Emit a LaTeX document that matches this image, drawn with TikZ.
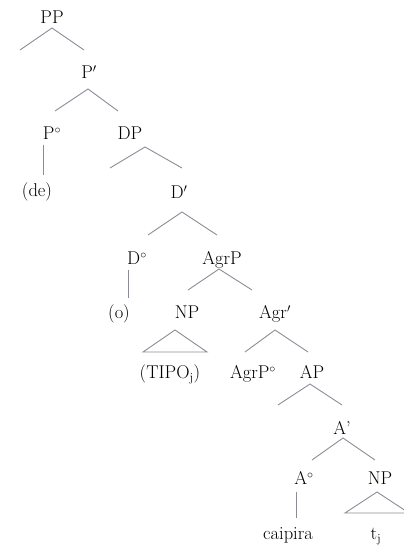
\documentclass[tikz,border=0pt]{standalone}
\usetikzlibrary{positioning}

\definecolor{branchgray}{RGB}{140,140,152}

\begin{document}
\begin{tikzpicture}[x=1pt, y=1pt, on grid,
    cat/.style={font=\fontsize{18.5}{20}\selectfont, text=black, inner sep=0pt, text height=13pt, text depth=0pt},
    branch/.style={draw=branchgray, line width=0.9pt}]

    \useasboundingbox (0,0) rectangle (404,546);

    % Nodes
    \node[cat] (PP) at (52,529) {PP};
    \node[cat] (Pbar) [below right=55pt and 37pt of PP] {P$'$};
    \node[cat] (Pdeg) [below left=61pt and 37pt of Pbar] {P$^{\circ}$};
    \node[cat] (DP) [below right=61pt and 41pt of Pbar] {DP};
    \node[cat] (de) [below left=57pt and 15pt of Pdeg] {(de)};
    \node[cat] (Dbar) [below right=59pt and 49pt of DP] {D$'$};
    \node[cat] (Ddeg) [below left=66pt and 42pt of Dbar] {D$^{\circ}$};
    \node[cat] (AgrP) [below right=66pt and 43pt of Dbar] {AgrP};
    \node[cat] (o) [below left=54pt and 18pt of Ddeg] {(o)};
    \node[cat] (NP) [below left=54pt and 35pt of AgrP] {NP};
    \node[cat] (Agrbar) [below right=54pt and 53pt of AgrP] {Agr$'$};
    \node[cat] (TIPO) [below left=60pt and 17pt of NP] {(TIPO$_{\mathrm{j}}$)};
    \node[cat] (AgrPdeg) [below left=60pt and 22pt of Agrbar] {AgrP$^{\circ}$};
    \node[cat] (AP) [below right=60pt and 37pt of Agrbar] {AP};
    \node[cat] (Abar) [below right=56pt and 30pt of AP] {A’};
    \node[cat] (Adeg) [below left=50pt and 38pt of Abar] {A$^{\circ}$};
    \node[cat] (NPb) [below right=50pt and 38pt of Abar] {NP};
    \node[cat] (caipira) [below left=55pt and 16pt of Adeg] {caipira};
    \node[cat] (tj) [below left=55pt and 4pt of NPb] {t$_{\mathrm{j}}$};

    % Branch points
    \coordinate (PP-a) at (52,518);
    \coordinate (PP-l) at (20,496);
    \coordinate (PP-r) at (84,496);
    \coordinate (Pbar-a) at (88,457);
    \coordinate (Pbar-l) at (55,435);
    \coordinate (Pbar-r) at (118,435);
    \coordinate (Pdeg-t) at (43,401);
    \coordinate (Pdeg-b) at (43,371);
    \coordinate (DP-a) at (145,399);
    \coordinate (DP-l) at (110,378);
    \coordinate (DP-r) at (182,378);
    \coordinate (Dbar-a) at (182,334);
    \coordinate (Dbar-l) at (148,311);
    \coordinate (Dbar-r) at (217,311);
    \coordinate (Ddeg-t) at (128,276);
    \coordinate (Ddeg-b) at (128,248);
    \coordinate (AgrP-a) at (219,277);
    \coordinate (AgrP-l) at (188,256);
    \coordinate (AgrP-r) at (252,256);
    \coordinate (NP-a) at (175,216);
    \coordinate (NP-l) at (143,194);
    \coordinate (NP-r) at (207,194);
    \coordinate (Agrbar-a) at (275,216);
    \coordinate (Agrbar-l) at (245,194);
    \coordinate (Agrbar-r) at (308,194);
    \coordinate (AP-a) at (310,162);
    \coordinate (AP-l) at (278,141);
    \coordinate (AP-r) at (342,141);
    \coordinate (Abar-a) at (343,108);
    \coordinate (Abar-l) at (312,86);
    \coordinate (Abar-r) at (375,86);
    \coordinate (Adeg-t) at (296,54);
    \coordinate (Adeg-b) at (296,28);
    \coordinate (NPb-a) at (377,54);
    \coordinate (NPb-l) at (345,33);
    \coordinate (NPb-r) at (409,33);

    % Branches
    \draw[branch] (PP-l) -- (PP-a) -- (PP-r);
    \draw[branch] (Pbar-l) -- (Pbar-a) -- (Pbar-r);
    \draw[branch] (Pdeg-t) -- (Pdeg-b);
    \draw[branch] (DP-l) -- (DP-a) -- (DP-r);
    \draw[branch] (Dbar-l) -- (Dbar-a) -- (Dbar-r);
    \draw[branch] (Ddeg-t) -- (Ddeg-b);
    \draw[branch] (AgrP-l) -- (AgrP-a) -- (AgrP-r);
    \draw[branch] (NP-a) -- (NP-l) -- (NP-r) -- cycle;
    \draw[branch] (Agrbar-l) -- (Agrbar-a) -- (Agrbar-r);
    \draw[branch] (AP-l) -- (AP-a) -- (AP-r);
    \draw[branch] (Abar-l) -- (Abar-a) -- (Abar-r);
    \draw[branch] (Adeg-t) -- (Adeg-b);
    \draw[branch] (NPb-a) -- (NPb-l) -- (NPb-r) -- cycle;
\end{tikzpicture}
\end{document}
